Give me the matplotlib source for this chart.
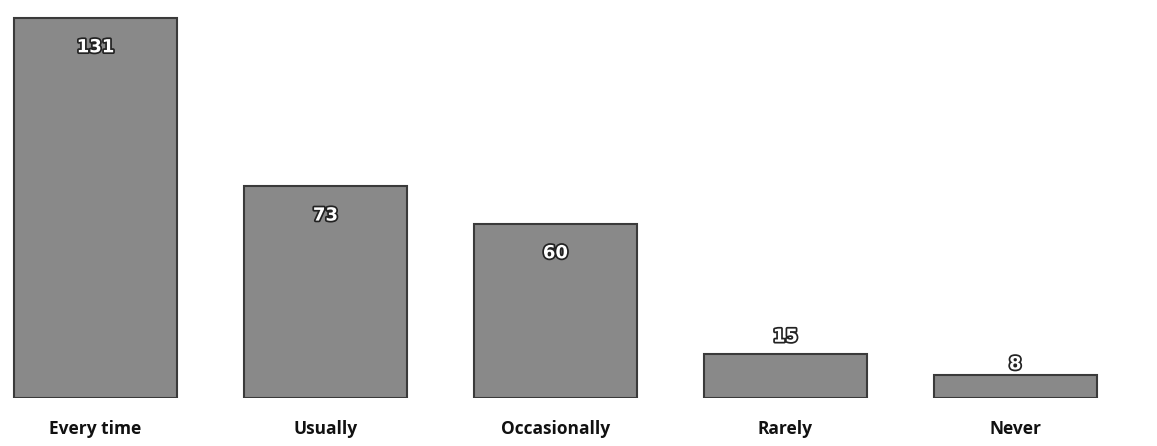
import matplotlib
matplotlib.use("Agg")
import matplotlib.pyplot as plt
import matplotlib.patheffects as pe

categories = ["Every time", "Usually", "Occasionally", "Rarely", "Never"]
values = [131, 73, 60, 15, 8]

fig = plt.figure(figsize=(11.57, 4.46), dpi=100)
ax = fig.add_axes([0.003, 0.1076, 0.954, 0.8924])
x = list(range(len(categories)))
ax.bar(x, values, width=0.71, color="#898989", edgecolor="#3a3a3a", linewidth=1.5)
ax.set_xlim(-0.4, 4.4)
ax.set_ylim(0, 137.2)
ax.axis("off")

for xi, v in zip(x, values):
    if v > 30:
        y, va = v - 7, "top"
    else:
        y, va = v + 3 if v > 10 else v + 0.5, "bottom"
    ax.text(xi, y, str(v), ha="center", va=va, fontsize=13, fontweight="bold",
            color="white", family=["Liberation Sans Narrow", "DejaVu Sans"],
            path_effects=[pe.withStroke(linewidth=2.5, foreground="#222222")])

for xi, c in zip(x, categories):
    ax.text(xi, -0.055, c, transform=ax.get_xaxis_transform(), ha="center", va="top",
            fontsize=12.5, fontweight="bold", color="#111111",
            family=["Liberation Sans Narrow", "Open Sans", "DejaVu Sans"])

fig.savefig("out.png", dpi=100, facecolor="white")
